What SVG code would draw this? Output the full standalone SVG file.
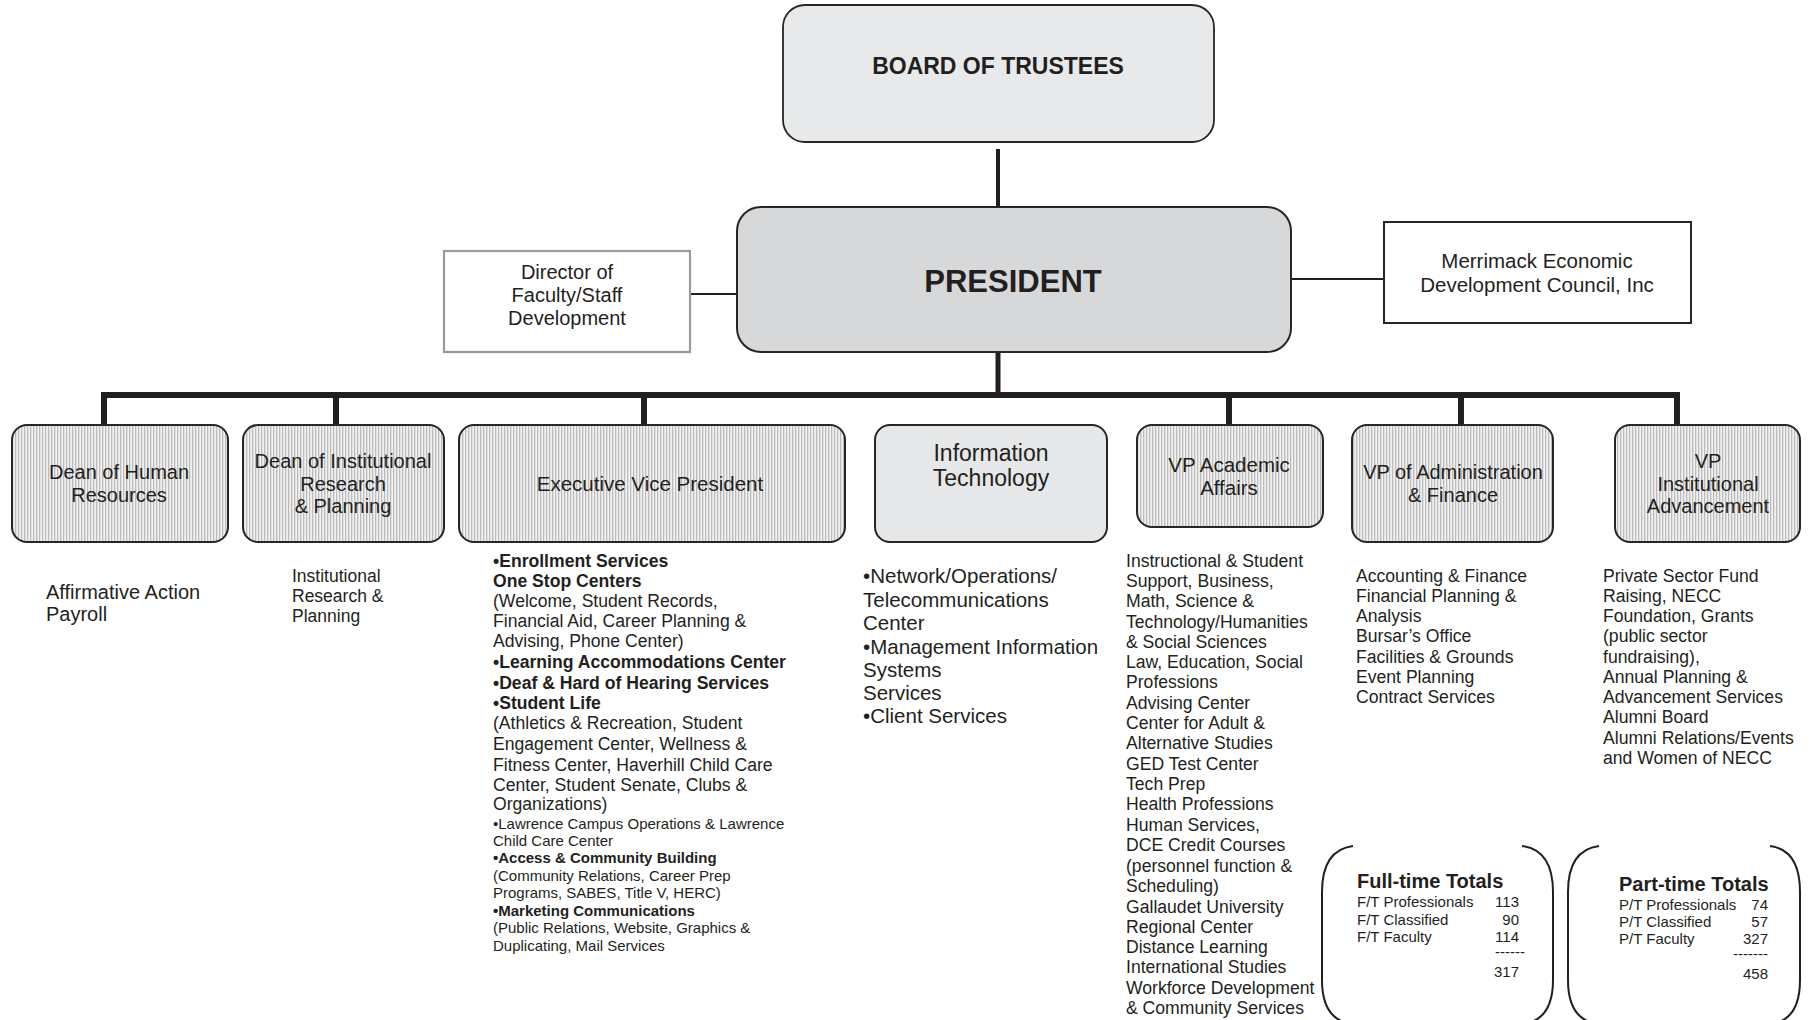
<svg xmlns="http://www.w3.org/2000/svg" width="1812" height="1020" viewBox="0 0 1812 1020">
  <defs>
    <!-- vertical ruling used on the department boxes -->
    <pattern id="stripes" width="3" height="10" patternUnits="userSpaceOnUse">
      <rect width="3" height="10" fill="#f1f1f1"/>
      <rect width="1.3" height="10" fill="#bcbcbc"/>
    </pattern>
  </defs>
  <style>
    text { font-family: "Liberation Sans", Arial, sans-serif; fill: #231f20; }
    .dept { fill: url(#stripes); stroke: #262626; stroke-width: 2; }
    .lbl { font-size: 20px; text-anchor: middle; }
    .lbl.big { font-size: 23px; }
    .lbl.mid { font-size: 20.5px; }
    .list { font-size: 17.6px; }
    .small { font-size: 15px; }
    .b { font-weight: bold; }
    .num { font-size: 15px; text-anchor: end; }
    .wire { stroke: #231f20; fill: none; }
    .bracket { stroke: #231f20; stroke-width: 2; fill: none; }
  </style>
  <rect width="1812" height="1020" fill="#ffffff"/>

  <!-- connectors -->
  <g id="connectors">
    <line class="wire" x1="998" y1="149" x2="998" y2="208" stroke-width="4"/>
    <line class="wire" x1="998" y1="352" x2="998" y2="396" stroke-width="5"/>
    <line class="wire" x1="690" y1="294" x2="737" y2="294" stroke-width="2"/>
    <line class="wire" x1="1290" y1="279" x2="1384" y2="279" stroke-width="2"/>
    <line class="wire" x1="101" y1="395" x2="1680" y2="395" stroke-width="6"/>
    <line class="wire" x1="104" y1="395" x2="104" y2="426" stroke-width="6"/>
    <line class="wire" x1="336" y1="395" x2="336" y2="426" stroke-width="6"/>
    <line class="wire" x1="644" y1="395" x2="644" y2="426" stroke-width="6"/>
    <line class="wire" x1="1229" y1="395" x2="1229" y2="426" stroke-width="6"/>
    <line class="wire" x1="1461" y1="395" x2="1461" y2="426" stroke-width="6"/>
    <line class="wire" x1="1677" y1="395" x2="1677" y2="426" stroke-width="6"/>
  </g>

  <g id="board">
    <rect x="783" y="5" width="431" height="137" rx="22" fill="#e8e9eb" stroke="#262626" stroke-width="1.8"/>
    <text x="998" y="74" text-anchor="middle" font-size="23" font-weight="bold">BOARD OF TRUSTEES</text>
  </g>

  <g id="president">
    <rect x="737" y="207" width="554" height="145" rx="24" fill="#d7d8da" stroke="#262626" stroke-width="2"/>
    <text x="1013" y="292" text-anchor="middle" font-size="31" font-weight="bold">PRESIDENT</text>
  </g>

  <g id="director-development">
    <rect x="444" y="251" width="246" height="101" fill="#ffffff" stroke="#9a9a9a" stroke-width="2.2"/>
    <text class="lbl" x="567" y="279">Director of</text>
    <text class="lbl" x="567" y="302">Faculty/Staff</text>
    <text class="lbl" x="567" y="325">Development</text>
  </g>

  <g id="merrimack">
    <rect x="1384" y="222" width="307" height="101" fill="#ffffff" stroke="#262626" stroke-width="2"/>
    <text class="lbl mid" x="1537" y="268">Merrimack Economic</text>
    <text class="lbl mid" x="1537" y="292">Development Council, Inc</text>
  </g>

  <g id="dean-hr">
    <rect class="dept" x="12" y="425" width="216" height="117" rx="15"/>
    <text class="lbl" x="119" y="479">Dean of Human</text>
    <text class="lbl" x="119" y="502">Resources</text>
    <text x="46" y="599" font-size="20">Affirmative Action</text>
    <text x="46" y="621" font-size="20">Payroll</text>
  </g>

  <g id="dean-research">
    <rect class="dept" x="243" y="425" width="201" height="117" rx="15"/>
    <text class="lbl" x="343" y="468">Dean of Institutional</text>
    <text class="lbl" x="343" y="491">Research</text>
    <text class="lbl" x="343" y="513">&amp; Planning</text>
    <text x="292" y="582" font-size="17.5">Institutional</text>
    <text x="292" y="602" font-size="17.5">Research &amp;</text>
    <text x="292" y="622" font-size="17.5">Planning</text>
  </g>

  <g id="evp">
    <rect class="dept" x="459" y="425" width="386" height="117" rx="15"/>
    <text class="lbl mid" x="650" y="491">Executive Vice President</text>
    <g class="list">
      <text class="b" x="493" y="567">•Enrollment Services</text>
      <text class="b" x="493" y="587">One Stop Centers</text>
      <text x="493" y="607">(Welcome, Student Records,</text>
      <text x="493" y="627">Financial Aid, Career Planning &amp;</text>
      <text x="493" y="647">Advising, Phone Center)</text>
      <text class="b" x="493" y="668">•Learning Accommodations Center</text>
      <text class="b" x="493" y="689">•Deaf &amp; Hard of Hearing Services</text>
      <text class="b" x="493" y="709">•Student Life</text>
      <text x="493" y="729">(Athletics &amp; Recreation, Student</text>
      <text x="493" y="750">Engagement Center, Wellness &amp;</text>
      <text x="493" y="771">Fitness Center, Haverhill Child Care</text>
      <text x="493" y="791">Center, Student Senate, Clubs &amp;</text>
      <text x="493" y="810">Organizations)</text>
    </g>
    <g class="small">
      <text x="493" y="829">•Lawrence Campus Operations &amp; Lawrence</text>
      <text x="493" y="846">Child Care Center</text>
      <text class="b" x="493" y="863">•Access &amp; Community Building</text>
      <text x="493" y="881">(Community Relations, Career Prep</text>
      <text x="493" y="898">Programs, SABES, Title V, HERC)</text>
      <text class="b" x="493" y="916">•Marketing Communications</text>
      <text x="493" y="933">(Public Relations, Website, Graphics &amp;</text>
      <text x="493" y="951">Duplicating, Mail Services</text>
    </g>
  </g>

  <g id="information-technology">
    <rect x="875" y="425" width="232" height="117" rx="15" fill="#e6e7e8" stroke="#262626" stroke-width="2"/>
    <text class="lbl big" x="991" y="461">Information</text>
    <text class="lbl big" x="991" y="486">Technology</text>
    <g font-size="20.5">
      <text x="863" y="583">•Network/Operations/</text>
      <text x="863" y="607">Telecommunications</text>
      <text x="863" y="630">Center</text>
      <text x="863" y="654">•Management Information</text>
      <text x="863" y="677">Systems</text>
      <text x="863" y="700">Services</text>
      <text x="863" y="723">•Client Services</text>
    </g>
  </g>

  <g id="vp-academic">
    <rect class="dept" x="1137" y="425" width="186" height="102" rx="15"/>
    <text class="lbl mid" x="1229" y="472">VP Academic</text>
    <text class="lbl mid" x="1229" y="495">Affairs</text>
    <g class="list">
      <text x="1126" y="567">Instructional &amp; Student</text>
      <text x="1126" y="587">Support, Business,</text>
      <text x="1126" y="607">Math, Science &amp;</text>
      <text x="1126" y="628">Technology/Humanities</text>
      <text x="1126" y="648">&amp; Social Sciences</text>
      <text x="1126" y="668">Law, Education, Social</text>
      <text x="1126" y="688">Professions</text>
      <text x="1126" y="709">Advising Center</text>
      <text x="1126" y="729">Center for Adult &amp;</text>
      <text x="1126" y="749">Alternative Studies</text>
      <text x="1126" y="770">GED Test Center</text>
      <text x="1126" y="790">Tech Prep</text>
      <text x="1126" y="810">Health Professions</text>
      <text x="1126" y="831">Human Services,</text>
      <text x="1126" y="851">DCE Credit Courses</text>
      <text x="1126" y="872">(personnel function &amp;</text>
      <text x="1126" y="892">Scheduling)</text>
      <text x="1126" y="913">Gallaudet University</text>
      <text x="1126" y="933">Regional Center</text>
      <text x="1126" y="953">Distance Learning</text>
      <text x="1126" y="973">International Studies</text>
      <text x="1126" y="994">Workforce Development</text>
      <text x="1126" y="1014">&amp; Community Services</text>
    </g>
  </g>

  <g id="vp-finance">
    <rect class="dept" x="1352" y="425" width="201" height="117" rx="15"/>
    <text class="lbl" x="1453" y="479">VP of Administration</text>
    <text class="lbl" x="1453" y="502">&amp; Finance</text>
    <g class="list">
      <text x="1356" y="582">Accounting &amp; Finance</text>
      <text x="1356" y="602">Financial Planning &amp;</text>
      <text x="1356" y="622">Analysis</text>
      <text x="1356" y="642">Bursar’s Office</text>
      <text x="1356" y="663">Facilities &amp; Grounds</text>
      <text x="1356" y="683">Event Planning</text>
      <text x="1356" y="703">Contract Services</text>
    </g>
  </g>

  <g id="vp-advancement">
    <rect class="dept" x="1615" y="425" width="185" height="117" rx="15"/>
    <text class="lbl" x="1708" y="468">VP</text>
    <text class="lbl" x="1708" y="491">Institutional</text>
    <text class="lbl" x="1708" y="513">Advancement</text>
    <g class="list">
      <text x="1603" y="582">Private Sector Fund</text>
      <text x="1603" y="602">Raising, NECC</text>
      <text x="1603" y="622">Foundation, Grants</text>
      <text x="1603" y="642">(public sector</text>
      <text x="1603" y="663">fundraising),</text>
      <text x="1603" y="683">Annual Planning &amp;</text>
      <text x="1603" y="703">Advancement Services</text>
      <text x="1603" y="723">Alumni Board</text>
      <text x="1603" y="744">Alumni Relations/Events</text>
      <text x="1603" y="764">and Women of NECC</text>
    </g>
  </g>

  <g id="fulltime-totals">
    <path class="bracket" d="M1353 846 Q1322 850 1322 892 L1322 980 Q1322 1020 1352 1024"/>
    <path class="bracket" d="M1522 846 Q1553 850 1553 892 L1553 980 Q1553 1020 1523 1024"/>
    <text x="1357" y="888" font-size="20" font-weight="bold">Full-time Totals</text>
    <text x="1357" y="907" font-size="15">F/T Professionals</text>
    <text x="1357" y="925" font-size="15">F/T Classified</text>
    <text x="1357" y="942" font-size="15">F/T Faculty</text>
    <text class="num" x="1519" y="907">113</text>
    <text class="num" x="1519" y="925">90</text>
    <text class="num" x="1519" y="942">114</text>
    <text class="num" x="1525" y="957">------</text>
    <text class="num" x="1519" y="977">317</text>
  </g>

  <g id="parttime-totals">
    <path class="bracket" d="M1599 846 Q1568 850 1568 892 L1568 980 Q1568 1020 1598 1024"/>
    <path class="bracket" d="M1770 846 Q1800 850 1800 892 L1800 980 Q1800 1020 1771 1024"/>
    <text x="1619" y="891" font-size="20" font-weight="bold">Part-time Totals</text>
    <text x="1619" y="910" font-size="15">P/T Professionals</text>
    <text x="1619" y="927" font-size="15">P/T Classified</text>
    <text x="1619" y="944" font-size="15">P/T Faculty</text>
    <text class="num" x="1768" y="910">74</text>
    <text class="num" x="1768" y="927">57</text>
    <text class="num" x="1768" y="944">327</text>
    <text class="num" x="1768" y="959">-------</text>
    <text class="num" x="1768" y="979">458</text>
  </g>
</svg>
